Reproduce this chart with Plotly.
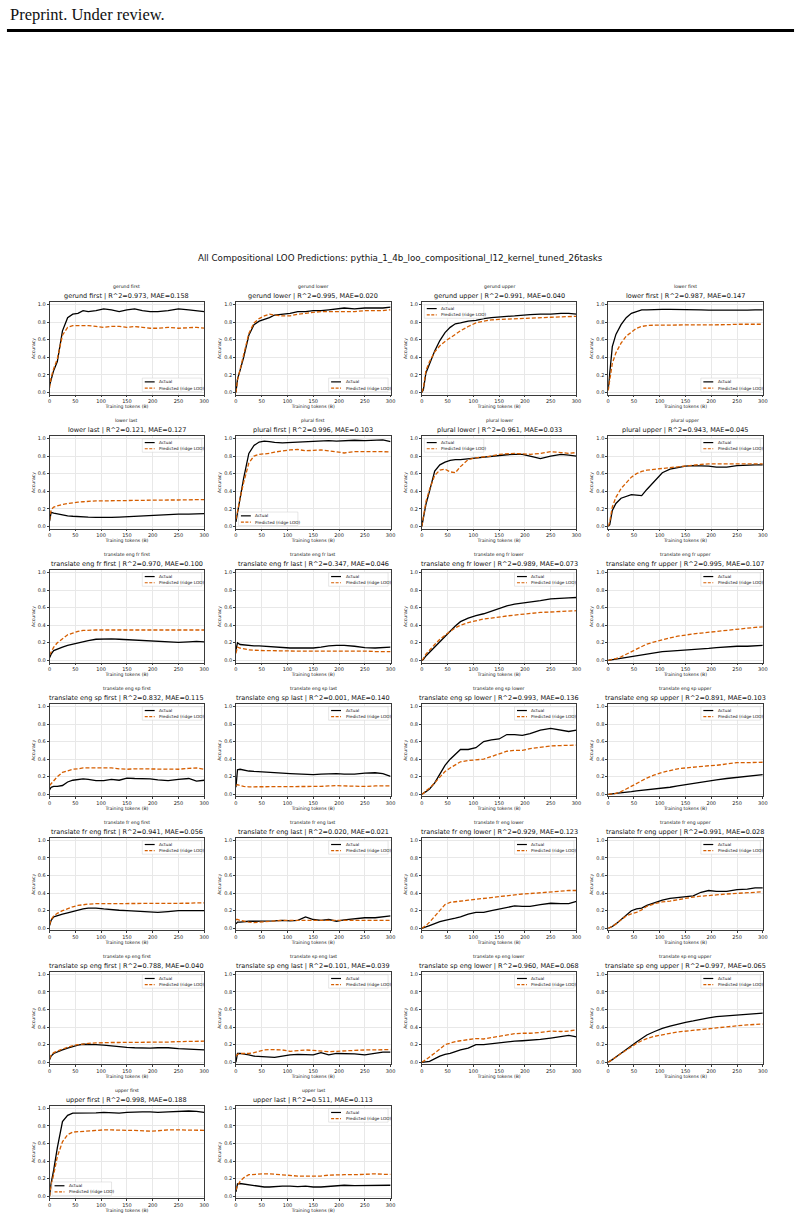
import plotly.graph_objects as go

# ---------------- data ----------------
X = [0, 3, 8, 15, 25, 35, 45, 55, 65, 75, 90, 105, 120, 135, 150, 165, 180, 195, 210, 230, 250, 270, 285, 300]

TASKS = ["gerund first", "gerund lower", "gerund upper", "lower first",
         "lower last", "plural first", "plural lower", "plural upper",
         "translate eng fr first", "translate eng fr last", "translate eng fr lower", "translate eng fr upper",
         "translate eng sp first", "translate eng sp last", "translate eng sp lower", "translate eng sp upper",
         "translate fr eng first", "translate fr eng last", "translate fr eng lower", "translate fr eng upper",
         "translate sp eng first", "translate sp eng last", "translate sp eng lower", "translate sp eng upper",
         "upper first", "upper last"]
R2 = [0.973, 0.995, 0.991, 0.987, 0.121, 0.996, 0.961, 0.943,
      0.970, 0.347, 0.989, 0.995, 0.832, 0.001, 0.993, 0.891,
      0.941, 0.020, 0.929, 0.991, 0.788, 0.101, 0.960, 0.997,
      0.998, 0.511]
MAE = [0.158, 0.020, 0.040, 0.147, 0.127, 0.103, 0.033, 0.045,
       0.100, 0.046, 0.073, 0.107, 0.115, 0.140, 0.136, 0.103,
       0.056, 0.021, 0.123, 0.028, 0.040, 0.039, 0.068, 0.065,
       0.188, 0.113]

gerund_first_actual = [0.08, 0.15, 0.25, 0.35, 0.70, 0.85, 0.89, 0.90, 0.93, 0.92, 0.93, 0.95, 0.94, 0.92, 0.94, 0.95, 0.93, 0.92, 0.92, 0.93, 0.95, 0.94, 0.93, 0.92]
gerund_first_pred = [0.05, 0.17, 0.27, 0.38, 0.65, 0.74, 0.76, 0.76, 0.76, 0.76, 0.75, 0.74, 0.75, 0.75, 0.74, 0.75, 0.74, 0.73, 0.73, 0.74, 0.73, 0.74, 0.74, 0.73]
gerund_lower_actual = [0.0, 0.15, 0.25, 0.40, 0.65, 0.77, 0.81, 0.83, 0.85, 0.88, 0.89, 0.90, 0.92, 0.92, 0.93, 0.93, 0.94, 0.95, 0.96, 0.95, 0.96, 0.96, 0.96, 0.97]
gerund_lower_pred = [0.0, 0.14, 0.26, 0.42, 0.67, 0.79, 0.84, 0.87, 0.89, 0.88, 0.87, 0.87, 0.89, 0.90, 0.91, 0.92, 0.92, 0.92, 0.92, 0.92, 0.93, 0.93, 0.93, 0.94]
gerund_upper_actual = [0.0, 0.03, 0.22, 0.32, 0.47, 0.59, 0.68, 0.74, 0.78, 0.79, 0.81, 0.82, 0.84, 0.85, 0.86, 0.865, 0.87, 0.88, 0.885, 0.89, 0.89, 0.90, 0.90, 0.89]
gerund_upper_pred = [0.0, 0.05, 0.25, 0.35, 0.46, 0.53, 0.58, 0.62, 0.66, 0.70, 0.75, 0.79, 0.81, 0.825, 0.83, 0.835, 0.84, 0.845, 0.85, 0.85, 0.855, 0.86, 0.86, 0.865]
lower_first_actual = [0.03, 0.25, 0.52, 0.66, 0.77, 0.85, 0.90, 0.92, 0.94, 0.94, 0.945, 0.945, 0.945, 0.945, 0.94, 0.94, 0.94, 0.935, 0.935, 0.93, 0.93, 0.935, 0.94, 0.94]
lower_first_pred = [0.02, 0.15, 0.33, 0.45, 0.56, 0.64, 0.69, 0.73, 0.75, 0.76, 0.765, 0.765, 0.765, 0.765, 0.765, 0.765, 0.765, 0.765, 0.77, 0.77, 0.775, 0.775, 0.775, 0.775]
lower_last_actual = [0.06, 0.16, 0.15, 0.14, 0.13, 0.12, 0.115, 0.11, 0.108, 0.105, 0.103, 0.10, 0.102, 0.105, 0.11, 0.113, 0.12, 0.128, 0.133, 0.138, 0.14, 0.14, 0.14, 0.145]
lower_last_pred = [0.07, 0.19, 0.22, 0.235, 0.25, 0.26, 0.27, 0.275, 0.28, 0.285, 0.29, 0.29, 0.292, 0.293, 0.295, 0.296, 0.298, 0.30, 0.30, 0.30, 0.30, 0.30, 0.303, 0.305]
plural_first_actual = [0.05, 0.15, 0.30, 0.55, 0.83, 0.92, 0.96, 0.97, 0.965, 0.955, 0.95, 0.955, 0.96, 0.965, 0.97, 0.975, 0.975, 0.97, 0.975, 0.98, 0.975, 0.98, 0.985, 0.965]
plural_first_pred = [0.08, 0.18, 0.32, 0.50, 0.72, 0.80, 0.82, 0.825, 0.83, 0.845, 0.86, 0.87, 0.875, 0.86, 0.865, 0.87, 0.86, 0.845, 0.835, 0.85, 0.85, 0.855, 0.85, 0.845]
plural_lower_actual = [0.0, 0.10, 0.25, 0.40, 0.63, 0.70, 0.73, 0.75, 0.76, 0.76, 0.77, 0.78, 0.79, 0.80, 0.81, 0.815, 0.82, 0.82, 0.80, 0.77, 0.80, 0.82, 0.81, 0.80]
plural_lower_pred = [0.0, 0.12, 0.28, 0.42, 0.58, 0.64, 0.65, 0.62, 0.61, 0.68, 0.76, 0.78, 0.79, 0.80, 0.82, 0.825, 0.83, 0.825, 0.82, 0.83, 0.85, 0.84, 0.83, 0.84]
plural_upper_actual = [0.0, 0.02, 0.18, 0.26, 0.32, 0.34, 0.36, 0.355, 0.35, 0.42, 0.52, 0.61, 0.65, 0.67, 0.685, 0.69, 0.69, 0.685, 0.675, 0.675, 0.69, 0.70, 0.70, 0.70]
plural_upper_pred = [0.0, 0.05, 0.22, 0.33, 0.43, 0.50, 0.56, 0.60, 0.625, 0.64, 0.65, 0.66, 0.67, 0.68, 0.69, 0.70, 0.705, 0.71, 0.71, 0.71, 0.71, 0.715, 0.715, 0.71]
eng_fr_first_actual = [0.03, 0.07, 0.11, 0.13, 0.15, 0.17, 0.185, 0.20, 0.215, 0.225, 0.24, 0.245, 0.245, 0.24, 0.235, 0.23, 0.22, 0.215, 0.21, 0.21, 0.205, 0.21, 0.215, 0.21]
eng_fr_first_pred = [0.06, 0.10, 0.15, 0.20, 0.25, 0.29, 0.31, 0.33, 0.34, 0.345, 0.345, 0.345, 0.345, 0.345, 0.345, 0.345, 0.345, 0.345, 0.345, 0.345, 0.345, 0.345, 0.345, 0.345]
eng_fr_last_actual = [0.12, 0.20, 0.18, 0.175, 0.17, 0.165, 0.165, 0.16, 0.16, 0.155, 0.145, 0.14, 0.14, 0.14, 0.14, 0.15, 0.165, 0.17, 0.17, 0.16, 0.145, 0.14, 0.145, 0.15]
eng_fr_last_pred = [0.08, 0.15, 0.14, 0.13, 0.12, 0.115, 0.11, 0.11, 0.11, 0.108, 0.105, 0.105, 0.105, 0.105, 0.105, 0.105, 0.11, 0.11, 0.11, 0.105, 0.105, 0.10, 0.10, 0.10]
eng_fr_lower_actual = [0.0, 0.01, 0.05, 0.09, 0.15, 0.21, 0.27, 0.33, 0.39, 0.44, 0.48, 0.51, 0.53, 0.56, 0.59, 0.62, 0.64, 0.65, 0.66, 0.68, 0.70, 0.71, 0.71, 0.715]
eng_fr_lower_pred = [0.0, 0.02, 0.07, 0.12, 0.18, 0.24, 0.29, 0.33, 0.37, 0.40, 0.43, 0.45, 0.47, 0.48, 0.495, 0.505, 0.515, 0.525, 0.535, 0.545, 0.55, 0.555, 0.56, 0.565]
eng_fr_upper_actual = [0.0, 0.003, 0.01, 0.015, 0.025, 0.035, 0.045, 0.055, 0.065, 0.075, 0.09, 0.10, 0.105, 0.11, 0.115, 0.12, 0.13, 0.135, 0.145, 0.155, 0.16, 0.16, 0.165, 0.17]
eng_fr_upper_pred = [0.0, 0.003, 0.01, 0.02, 0.04, 0.07, 0.10, 0.13, 0.16, 0.185, 0.21, 0.235, 0.255, 0.275, 0.29, 0.30, 0.31, 0.32, 0.33, 0.345, 0.36, 0.37, 0.375, 0.38]
eng_sp_first_actual = [0.05, 0.08, 0.09, 0.09, 0.10, 0.14, 0.16, 0.17, 0.175, 0.17, 0.155, 0.155, 0.17, 0.16, 0.185, 0.18, 0.18, 0.175, 0.165, 0.155, 0.17, 0.18, 0.15, 0.16]
eng_sp_first_pred = [0.10, 0.12, 0.16, 0.20, 0.25, 0.27, 0.285, 0.29, 0.30, 0.30, 0.30, 0.30, 0.30, 0.29, 0.285, 0.29, 0.29, 0.29, 0.285, 0.29, 0.285, 0.295, 0.30, 0.285]
eng_sp_last_actual = [0.08, 0.28, 0.285, 0.275, 0.265, 0.26, 0.255, 0.25, 0.248, 0.245, 0.24, 0.235, 0.23, 0.225, 0.225, 0.23, 0.235, 0.235, 0.23, 0.23, 0.24, 0.245, 0.235, 0.205]
eng_sp_last_pred = [0.10, 0.11, 0.10, 0.09, 0.085, 0.085, 0.085, 0.085, 0.085, 0.085, 0.085, 0.085, 0.085, 0.085, 0.085, 0.09, 0.095, 0.10, 0.095, 0.09, 0.09, 0.095, 0.095, 0.095]
eng_sp_lower_actual = [0.0, 0.01, 0.03, 0.06, 0.13, 0.23, 0.33, 0.40, 0.45, 0.51, 0.51, 0.53, 0.60, 0.62, 0.63, 0.68, 0.68, 0.67, 0.69, 0.73, 0.75, 0.73, 0.715, 0.73]
eng_sp_lower_pred = [0.0, 0.01, 0.04, 0.07, 0.13, 0.20, 0.26, 0.30, 0.34, 0.37, 0.385, 0.39, 0.40, 0.43, 0.46, 0.49, 0.50, 0.50, 0.52, 0.535, 0.55, 0.555, 0.56, 0.56]
eng_sp_upper_actual = [0.0, 0.0, 0.005, 0.01, 0.015, 0.02, 0.03, 0.04, 0.045, 0.055, 0.06, 0.07, 0.08, 0.095, 0.11, 0.125, 0.135, 0.15, 0.165, 0.18, 0.195, 0.21, 0.22, 0.225]
eng_sp_upper_pred = [0.0, 0.0, 0.005, 0.01, 0.03, 0.06, 0.09, 0.12, 0.155, 0.185, 0.22, 0.25, 0.27, 0.29, 0.30, 0.31, 0.315, 0.325, 0.33, 0.345, 0.36, 0.36, 0.365, 0.365]
fr_eng_first_actual = [0.03, 0.09, 0.13, 0.145, 0.16, 0.175, 0.19, 0.21, 0.22, 0.23, 0.23, 0.22, 0.21, 0.205, 0.20, 0.195, 0.185, 0.18, 0.18, 0.19, 0.20, 0.20, 0.20, 0.20]
fr_eng_first_pred = [0.04, 0.10, 0.14, 0.17, 0.20, 0.225, 0.245, 0.26, 0.27, 0.275, 0.28, 0.28, 0.28, 0.28, 0.28, 0.28, 0.28, 0.28, 0.28, 0.285, 0.285, 0.285, 0.29, 0.29]
fr_eng_last_actual = [0.05, 0.07, 0.07, 0.075, 0.08, 0.08, 0.08, 0.085, 0.085, 0.085, 0.09, 0.085, 0.09, 0.13, 0.10, 0.09, 0.10, 0.08, 0.095, 0.105, 0.12, 0.12, 0.13, 0.14]
fr_eng_last_pred = [0.10, 0.10, 0.09, 0.08, 0.07, 0.065, 0.07, 0.08, 0.085, 0.09, 0.09, 0.09, 0.09, 0.09, 0.09, 0.09, 0.09, 0.09, 0.095, 0.095, 0.095, 0.09, 0.09, 0.09]
fr_eng_lower_actual = [0.0, 0.003, 0.015, 0.03, 0.055, 0.075, 0.09, 0.10, 0.115, 0.13, 0.16, 0.18, 0.18, 0.20, 0.22, 0.24, 0.255, 0.25, 0.25, 0.27, 0.285, 0.28, 0.28, 0.305]
fr_eng_lower_pred = [0.0, 0.01, 0.03, 0.07, 0.14, 0.21, 0.27, 0.295, 0.30, 0.31, 0.32, 0.33, 0.34, 0.35, 0.365, 0.375, 0.38, 0.39, 0.395, 0.405, 0.415, 0.425, 0.43, 0.43]
fr_eng_upper_actual = [0.0, 0.005, 0.02, 0.05, 0.10, 0.16, 0.20, 0.22, 0.23, 0.26, 0.29, 0.32, 0.34, 0.35, 0.36, 0.37, 0.41, 0.43, 0.42, 0.42, 0.44, 0.445, 0.46, 0.46]
fr_eng_upper_pred = [0.0, 0.005, 0.02, 0.05, 0.10, 0.14, 0.165, 0.18, 0.21, 0.25, 0.28, 0.30, 0.31, 0.325, 0.345, 0.355, 0.365, 0.37, 0.38, 0.39, 0.40, 0.405, 0.41, 0.415]
sp_eng_first_actual = [0.03, 0.07, 0.10, 0.12, 0.14, 0.16, 0.18, 0.195, 0.205, 0.205, 0.20, 0.195, 0.185, 0.18, 0.17, 0.165, 0.16, 0.16, 0.165, 0.165, 0.155, 0.15, 0.145, 0.14]
sp_eng_first_pred = [0.04, 0.08, 0.11, 0.13, 0.15, 0.17, 0.19, 0.20, 0.21, 0.215, 0.22, 0.225, 0.225, 0.225, 0.225, 0.225, 0.225, 0.225, 0.225, 0.23, 0.235, 0.24, 0.24, 0.24]
sp_eng_last_actual = [0.0, 0.10, 0.10, 0.095, 0.085, 0.07, 0.065, 0.06, 0.06, 0.055, 0.07, 0.085, 0.09, 0.09, 0.085, 0.11, 0.085, 0.10, 0.10, 0.095, 0.085, 0.10, 0.115, 0.115]
sp_eng_last_pred = [0.07, 0.09, 0.10, 0.10, 0.10, 0.11, 0.125, 0.14, 0.145, 0.145, 0.14, 0.125, 0.13, 0.14, 0.135, 0.125, 0.12, 0.125, 0.13, 0.13, 0.14, 0.14, 0.14, 0.145]
sp_eng_lower_actual = [0.0, 0.0, 0.005, 0.01, 0.04, 0.07, 0.09, 0.10, 0.12, 0.14, 0.16, 0.20, 0.20, 0.21, 0.22, 0.235, 0.24, 0.245, 0.25, 0.26, 0.275, 0.29, 0.305, 0.29]
sp_eng_lower_pred = [0.0, 0.01, 0.03, 0.06, 0.10, 0.15, 0.20, 0.22, 0.235, 0.245, 0.26, 0.27, 0.265, 0.28, 0.295, 0.31, 0.325, 0.33, 0.33, 0.34, 0.355, 0.35, 0.355, 0.37]
sp_eng_upper_actual = [0.0, 0.01, 0.03, 0.06, 0.10, 0.14, 0.18, 0.23, 0.27, 0.31, 0.35, 0.385, 0.41, 0.435, 0.455, 0.47, 0.49, 0.505, 0.52, 0.53, 0.54, 0.55, 0.555, 0.56]
sp_eng_upper_pred = [0.0, 0.01, 0.03, 0.06, 0.10, 0.14, 0.18, 0.215, 0.245, 0.27, 0.295, 0.315, 0.33, 0.345, 0.355, 0.365, 0.375, 0.385, 0.395, 0.405, 0.415, 0.425, 0.43, 0.435]
upper_first_actual = [0.0, 0.15, 0.30, 0.55, 0.85, 0.92, 0.945, 0.945, 0.945, 0.95, 0.95, 0.955, 0.95, 0.945, 0.955, 0.96, 0.96, 0.96, 0.955, 0.96, 0.965, 0.97, 0.965, 0.955]
upper_first_pred = [0.0, 0.12, 0.25, 0.45, 0.62, 0.70, 0.73, 0.735, 0.735, 0.74, 0.75, 0.755, 0.755, 0.75, 0.75, 0.75, 0.745, 0.74, 0.745, 0.755, 0.755, 0.75, 0.75, 0.75]
upper_last_actual = [0.05, 0.14, 0.145, 0.14, 0.13, 0.12, 0.11, 0.105, 0.105, 0.11, 0.115, 0.115, 0.11, 0.115, 0.105, 0.105, 0.11, 0.115, 0.125, 0.12, 0.12, 0.12, 0.12, 0.125]
upper_last_pred = [0.07, 0.12, 0.17, 0.21, 0.245, 0.25, 0.25, 0.255, 0.255, 0.25, 0.24, 0.235, 0.23, 0.23, 0.23, 0.23, 0.24, 0.245, 0.245, 0.245, 0.25, 0.255, 0.25, 0.25]

ACTUALS = [gerund_first_actual, gerund_lower_actual, gerund_upper_actual, lower_first_actual,
           lower_last_actual, plural_first_actual, plural_lower_actual, plural_upper_actual,
           eng_fr_first_actual, eng_fr_last_actual, eng_fr_lower_actual, eng_fr_upper_actual,
           eng_sp_first_actual, eng_sp_last_actual, eng_sp_lower_actual, eng_sp_upper_actual,
           fr_eng_first_actual, fr_eng_last_actual, fr_eng_lower_actual, fr_eng_upper_actual,
           sp_eng_first_actual, sp_eng_last_actual, sp_eng_lower_actual, sp_eng_upper_actual,
           upper_first_actual, upper_last_actual]
PREDS = [gerund_first_pred, gerund_lower_pred, gerund_upper_pred, lower_first_pred,
         lower_last_pred, plural_first_pred, plural_lower_pred, plural_upper_pred,
         eng_fr_first_pred, eng_fr_last_pred, eng_fr_lower_pred, eng_fr_upper_pred,
         eng_sp_first_pred, eng_sp_last_pred, eng_sp_lower_pred, eng_sp_upper_pred,
         fr_eng_first_pred, fr_eng_last_pred, fr_eng_lower_pred, fr_eng_upper_pred,
         sp_eng_first_pred, sp_eng_last_pred, sp_eng_lower_pred, sp_eng_upper_pred,
         upper_first_pred, upper_last_pred]

X_TICKS = [0, 50, 100, 150, 200, 250, 300]
Y_TICKS = [0.0, 0.2, 0.4, 0.6, 0.8, 1.0]
SERIES_NAMES = ["Actual", "Predicted (ridge LOO)"]

# legend corner per panel
LEG_LOC = ["lr", "lr", "ul", "lr", "ur", "ll", "ul", "ur",
           "ur", "ur", "ur", "ur", "ur", "ur", "ur", "ur",
           "ur", "ur", "ur", "ur", "ur", "ur", "ur", "ur",
           "ll", "ur"]

# ---------------- geometry (pixels) ----------------
W, H = 804, 1220
COL_LEFT = [48, 236, 423.5, 611.5]
PW = 156
ROW0_TOP = 301.8
ROW_STEP = 134.2
PH = 92.4
YR = [-0.025, 1.025]
FONT = "DejaVu Sans"
ORANGE = "#D55E00"


def fx(p):
    return p / W


def fy(p):
    return 1 - p / H


fig = go.Figure()
layout = {}
shapes = []
annotations = []

for i, name in enumerate(TASKS):
    r, c = divmod(i, 4)
    L = COL_LEFT[c]
    T = ROW0_TOP + r * ROW_STEP
    n = "" if i == 0 else str(i + 1)
    xa, ya = "x" + n, "y" + n

    fig.add_trace(go.Scatter(x=X, y=ACTUALS[i], xaxis=xa, yaxis=ya, mode="lines",
                             name=SERIES_NAMES[0], showlegend=False,
                             line=dict(color="black", width=1.3)))
    fig.add_trace(go.Scatter(x=X, y=PREDS[i], xaxis=xa, yaxis=ya, mode="lines",
                             name=SERIES_NAMES[1], showlegend=False,
                             line=dict(color=ORANGE, width=1.3, dash="4px,2px")))

    common = dict(showline=True, linecolor="#3a3a3a", linewidth=0.7, mirror=True,
                  ticks="outside", ticklen=2, tickwidth=0.6, tickcolor="#3a3a3a",
                  tickfont=dict(size=5, family=FONT, color="#222"),
                  showgrid=True, gridcolor="#e8e8e8", gridwidth=0.5, zeroline=False)
    layout["xaxis" + n] = dict(domain=[fx(L), fx(L + PW)], anchor=ya, range=[0, 300],
                               tickvals=X_TICKS,
                               title=dict(text="Training tokens (B)", standoff=1,
                                          font=dict(size=4.6, family=FONT, color="#222")),
                               **common)
    layout["yaxis" + n] = dict(domain=[fy(T + PH), fy(T)], anchor=xa, range=YR,
                               tickvals=Y_TICKS, tickformat=".1f",
                               title=dict(text="Accuracy", standoff=2,
                                          font=dict(size=4.6, family=FONT, color="#222")),
                               **common)

    cx = L + PW / 2
    annotations.append(dict(text=name, x=fx(cx), y=fy(T - 15.5), xref="paper", yref="paper",
                            showarrow=False, xanchor="center", yanchor="middle",
                            font=dict(size=4.6, family=FONT, color="#111")))
    annotations.append(dict(text=f"{name} | R^2={R2[i]:.3f}, MAE={MAE[i]:.3f}",
                            x=fx(cx), y=fy(T - 6), xref="paper", yref="paper",
                            showarrow=False, xanchor="center", yanchor="middle",
                            font=dict(size=6.5, family=FONT, color="#111")))

    # legend box
    bw, bh = 60, 13.5
    loc = LEG_LOC[i]
    bl = L + PW - 2.5 - bw if loc[1] == "r" else L + 2.5
    bt = T + 2.5 if loc[0] == "u" else T + PH - 3 - bh
    shapes.append(dict(type="rect", xref="paper", yref="paper",
                       x0=fx(bl), x1=fx(bl + bw), y0=fy(bt + bh), y1=fy(bt),
                       line=dict(color="#cfcfcf", width=0.5), fillcolor="rgba(255,255,255,0.85)",
                       layer="above"))
    for k, (col, dash) in enumerate([("black", "solid"), (ORANGE, "3px,1.5px")]):
        yy = bt + 3.8 + k * 6.2
        shapes.append(dict(type="line", xref="paper", yref="paper",
                           x0=fx(bl + 2.5), x1=fx(bl + 12.5), y0=fy(yy), y1=fy(yy),
                           line=dict(color=col, width=1.2, dash=dash), layer="above"))
        annotations.append(dict(text=SERIES_NAMES[k], x=fx(bl + 15), y=fy(yy),
                                xref="paper", yref="paper", showarrow=False,
                                xanchor="left", yanchor="middle",
                                font=dict(size=4.2, family=FONT, color="#111")))

# main title
annotations.append(dict(text="All Compositional LOO Predictions: pythia_1_4b_loo_compositional_l12_kernel_tuned_26tasks",
                        x=fx(402), y=fy(257), xref="paper", yref="paper", showarrow=False,
                        xanchor="center", yanchor="middle",
                        font=dict(size=8.7, family=FONT, color="#111")))
# page header
annotations.append(dict(text="Preprint. Under review.", x=fx(6), y=fy(14), xref="paper", yref="paper",
                        showarrow=False, xanchor="left", yanchor="middle",
                        font=dict(size=16.5, family="Liberation Serif", color="#111")))
shapes.append(dict(type="line", xref="paper", yref="paper", x0=fx(5), x1=fx(799),
                   y0=fy(29.5), y1=fy(29.5), line=dict(color="black", width=3)))

fig.update_layout(width=W, height=H, margin=dict(l=0, r=0, t=0, b=0),
                  paper_bgcolor="white", plot_bgcolor="white",
                  font=dict(family=FONT), showlegend=False,
                  shapes=shapes, annotations=annotations, **layout)

fig.write_html("out.html")
